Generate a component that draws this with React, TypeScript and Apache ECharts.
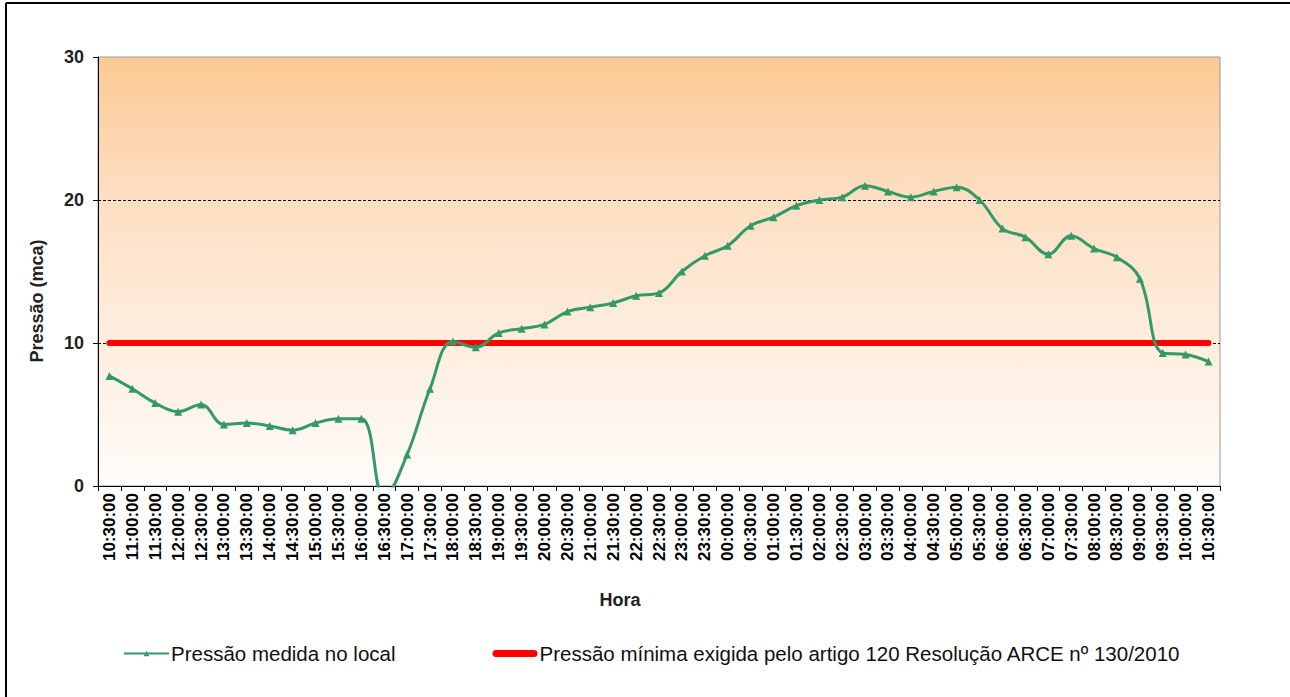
import React, { useEffect, useRef } from "react";
import * as echarts from "echarts";

const horas = [
  "10:30:00", "11:00:00", "11:30:00", "12:00:00", "12:30:00", "13:00:00", "13:30:00",
  "14:00:00", "14:30:00", "15:00:00", "15:30:00", "16:00:00", "16:30:00", "17:00:00",
  "17:30:00", "18:00:00", "18:30:00", "19:00:00", "19:30:00", "20:00:00", "20:30:00",
  "21:00:00", "21:30:00", "22:00:00", "22:30:00", "23:00:00", "23:30:00", "00:00:00",
  "00:30:00", "01:00:00", "01:30:00", "02:00:00", "02:30:00", "03:00:00", "03:30:00",
  "04:00:00", "04:30:00", "05:00:00", "05:30:00", "06:00:00", "06:30:00", "07:00:00",
  "07:30:00", "08:00:00", "08:30:00", "09:00:00", "09:30:00", "10:00:00", "10:30:00",
];

const pressaoMedida = [
  7.7, 6.8, 5.8, 5.2, 5.7, 4.3, 4.4, 4.2, 3.9, 4.4, 4.7, 4.7, -0.8, 2.2,
  6.8, 10.1, 9.7, 10.7, 11.0, 11.3, 12.2, 12.5, 12.8, 13.3, 13.5, 15.0, 16.1, 16.8,
  18.2, 18.8, 19.6, 20.0, 20.2, 21.0, 20.6, 20.2, 20.6, 20.9, 20.0, 18.0, 17.4, 16.2,
  17.5, 16.6, 16.0, 14.5, 9.3, 9.2, 8.7,
];

const pressaoMinima = horas.map(() => 10);

const yTicks = [0, 10, 20, 30];

const NOME_MEDIDA = "Pressão medida no local";
const NOME_MINIMA = "Pressão mínima exigida pelo artigo 120 Resolução ARCE nº 130/2010";

const FONT = "'Liberation Sans', Arial, sans-serif";

export default function App() {
  const ref = useRef<HTMLDivElement>(null);

  useEffect(() => {
    document.body.style.margin = "0";
    if (!ref.current) return;
    const chart = echarts.init(ref.current, null, { renderer: "svg" });
    chart.setOption({
      animation: false,
      backgroundColor: "#ffffff",
      textStyle: { fontFamily: FONT },
      grid: {
        left: 98,
        right: 70,
        top: 57,
        bottom: 211,
        show: true,
        borderColor: "#9a9a9a",
        borderWidth: 1,
        backgroundColor: new echarts.graphic.LinearGradient(0, 0, 0, 1, [
          { offset: 0, color: "#FCC994" },
          { offset: 0.33, color: "#FDDFC2" },
          { offset: 1, color: "#FFFCFA" },
        ]),
      },
      xAxis: {
        type: "category",
        data: horas,
        boundaryGap: true,
        axisLine: { show: true, lineStyle: { color: "#000", width: 1 } },
        axisTick: { show: true, length: 5, lineStyle: { color: "#000" } },
        axisLabel: {
          interval: 0,
          rotate: 90,
          fontSize: 17,
          fontWeight: "bold",
          color: "#000",
          fontFamily: FONT,
          margin: 7,
        },
        splitLine: { show: false },
      },
      yAxis: {
        type: "value",
        min: yTicks[0],
        max: yTicks[yTicks.length - 1],
        interval: 10,
        axisLine: { show: true, lineStyle: { color: "#000", width: 1 } },
        axisTick: { show: true, length: 5, lineStyle: { color: "#000" } },
        axisLabel: {
          fontSize: 18,
          fontWeight: "bold",
          color: "#222",
          fontFamily: FONT,
          margin: 14,
        },
        splitLine: {
          show: true,
          lineStyle: {
            color: ["transparent", "#000", "#000", "transparent"],
            type: [3, 2],
            width: 1,
          },
        },
      },
      legend: {
        left: 118,
        top: 638,
        itemWidth: 45,
        itemHeight: 7,
        itemGap: 97,
        textStyle: { fontSize: 20.5, color: "#111", fontFamily: FONT, padding: [0, 0, 0, -3] },
        data: [
          { name: NOME_MEDIDA },
          {
            name: NOME_MINIMA,
            icon: "path://M3.5,0 H41.5 A3.5,3.5 0 0 1 41.5,7 H3.5 A3.5,3.5 0 0 1 3.5,0 Z",
            itemStyle: { color: "#FF0000" },
          },
        ],
      },
      graphic: [
        {
          type: "line",
          shape: { x1: 6, y1: 3, x2: 1290, y2: 3 },
          style: { stroke: "#000", lineWidth: 2 },
          silent: true,
        },
        {
          type: "line",
          shape: { x1: 6, y1: 3, x2: 6, y2: 697 },
          style: { stroke: "#000", lineWidth: 2 },
          silent: true,
        },
        {
          type: "text",
          x: 37,
          y: 301,
          rotation: Math.PI / 2,
          style: {
            text: "Pressão (mca)",
            fontSize: 18,
            fontWeight: "bold",
            fontFamily: FONT,
            fill: "#222",
            align: "center",
            verticalAlign: "middle",
          },
        },
        {
          type: "text",
          x: 620,
          y: 600,
          style: {
            text: "Hora",
            fontSize: 18,
            fontWeight: "bold",
            fontFamily: FONT,
            fill: "#222",
            align: "center",
            verticalAlign: "middle",
          },
        },
      ],
      series: [
        {
          name: NOME_MINIMA,
          type: "line",
          data: pressaoMinima,
          symbol: "none",
          lineStyle: { color: "#FF0000", width: 6, cap: "round" },
          itemStyle: { color: "#FF0000" },
          z: 2,
        },
        {
          name: NOME_MEDIDA,
          type: "line",
          data: pressaoMedida,
          smooth: 0.4,
          symbol: "triangle",
          symbolSize: 8,
          showAllSymbol: true,
          clip: true,
          lineStyle: { color: "#339966", width: 3 },
          itemStyle: { color: "#339966" },
          z: 3,
        },
      ],
    });
    return () => chart.dispose();
  }, []);

  return <div ref={ref} style={{ width: 1290, height: 697 }} />;
}
